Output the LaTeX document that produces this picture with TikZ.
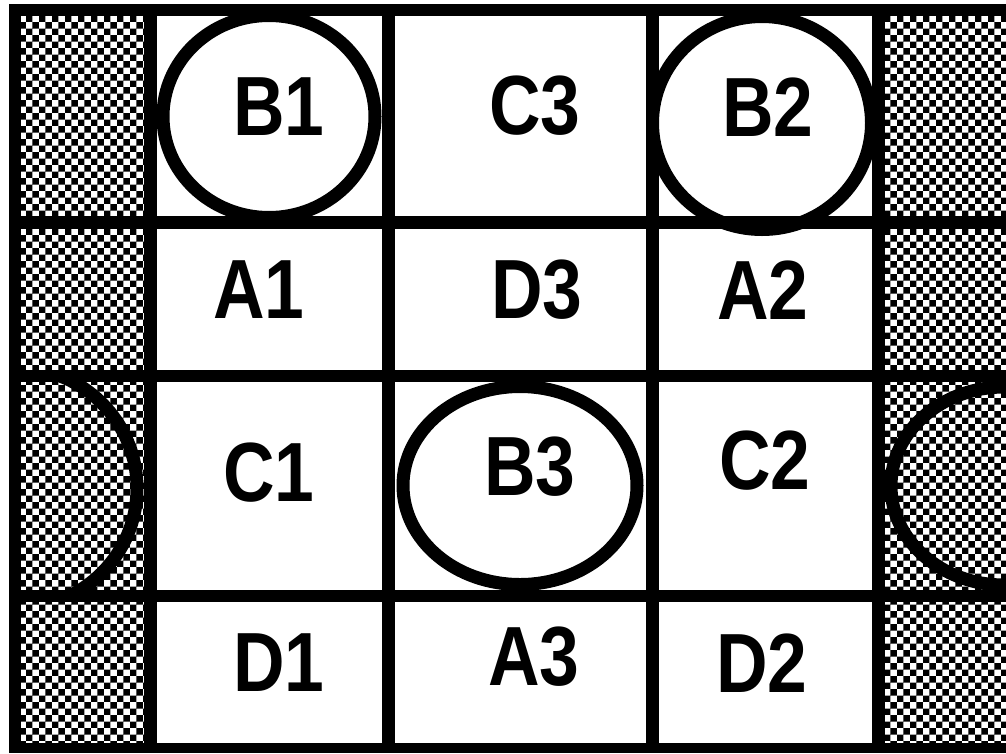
\documentclass[tikz,border=0pt]{standalone}
\usepackage{fontspec}
\setmainfont{Liberation Sans}
\usetikzlibrary{patterns}
\pgfdeclarepatternformonly{checkpx}{\pgfqpoint{0pt}{0pt}}{\pgfqpoint{13.4pt}{13.4pt}}{\pgfqpoint{13.4pt}{13.4pt}}{%
  \pgfpathrectangle{\pgfqpoint{0pt}{0pt}}{\pgfqpoint{6.7pt}{6.7pt}}%
  \pgfpathrectangle{\pgfqpoint{6.7pt}{6.7pt}}{\pgfqpoint{6.7pt}{6.7pt}}%
  \pgfusepath{fill}}
\begin{document}
\begin{tikzpicture}[x=1pt,y=-1pt,
  lbl/.style={font=\fontsize{84}{84}\selectfont\bfseries, inner sep=0pt, anchor=center},
  ring/.style={draw=black, line width=13pt},
  checkcell/.style={fill=white, postaction={pattern=checkpx, pattern color=black}},
  whitecell/.style={fill=white}]
\useasboundingbox (0,0) rectangle (1006,753);
\fill[white] (0,0) rectangle (1006,753);
% black frame and grid lines
\fill[black] (9,4) rectangle (1006,753);
% checker columns
\foreach \ya/\yb in {16/216, 229/370, 382/590, 602/743}{
  \path[checkcell] (21,\ya) rectangle (144,\yb);
  \path[checkcell] (885,\ya) rectangle (1006,\yb);
}
% white cells
\foreach \ya/\yb in {16/216, 229/370, 382/590, 602/743}{
  \foreach \xa/\xb in {157/382, 395/646, 659/872}{
    \path[whitecell] (\xa,\ya) rectangle (\xb,\yb);
  }
}
% ovals
\draw[ring] (269,116.5) ellipse [x radius=106, y radius=101];
\draw[ring] (762,123) ellipse [x radius=109.5, y radius=106.5];
\draw[ring] (520,485.5) ellipse [x radius=117, y radius=99];
\begin{scope}
  \clip (21,382) rectangle (144,590);
  \draw[ring] (17,488) circle [radius=120];
\end{scope}
\begin{scope}
  \clip (885,382) rectangle (1006,590);
  \draw[ring] (1004,486) ellipse [x radius=113, y radius=99];
\end{scope}
% labels
\node[lbl] (b1) at (279,107) {\scalebox{0.85}[1]{B1}};
\node[lbl] (c3) at (535,106) {\scalebox{0.85}[1]{C3}};
\node[lbl] (b2) at (768,107) {\scalebox{0.85}[1]{B2}};
\node[lbl] (a1) at (259,290) {\scalebox{0.85}[1]{A1}};
\node[lbl] (d3) at (537,290) {\scalebox{0.85}[1]{D3}};
\node[lbl] (a2) at (763,290) {\scalebox{0.85}[1]{A2}};
\node[lbl] (c1) at (269,473) {\scalebox{0.85}[1]{C1}};
\node[lbl] (b3) at (530,467) {\scalebox{0.85}[1]{B3}};
\node[lbl] (c2) at (765,461) {\scalebox{0.85}[1]{C2}};
\node[lbl] (d1) at (279,663) {\scalebox{0.85}[1]{D1}};
\node[lbl] (a3) at (534,657) {\scalebox{0.85}[1]{A3}};
\node[lbl] (d2) at (762,663) {\scalebox{0.85}[1]{D2}};
\end{tikzpicture}
\end{document}
